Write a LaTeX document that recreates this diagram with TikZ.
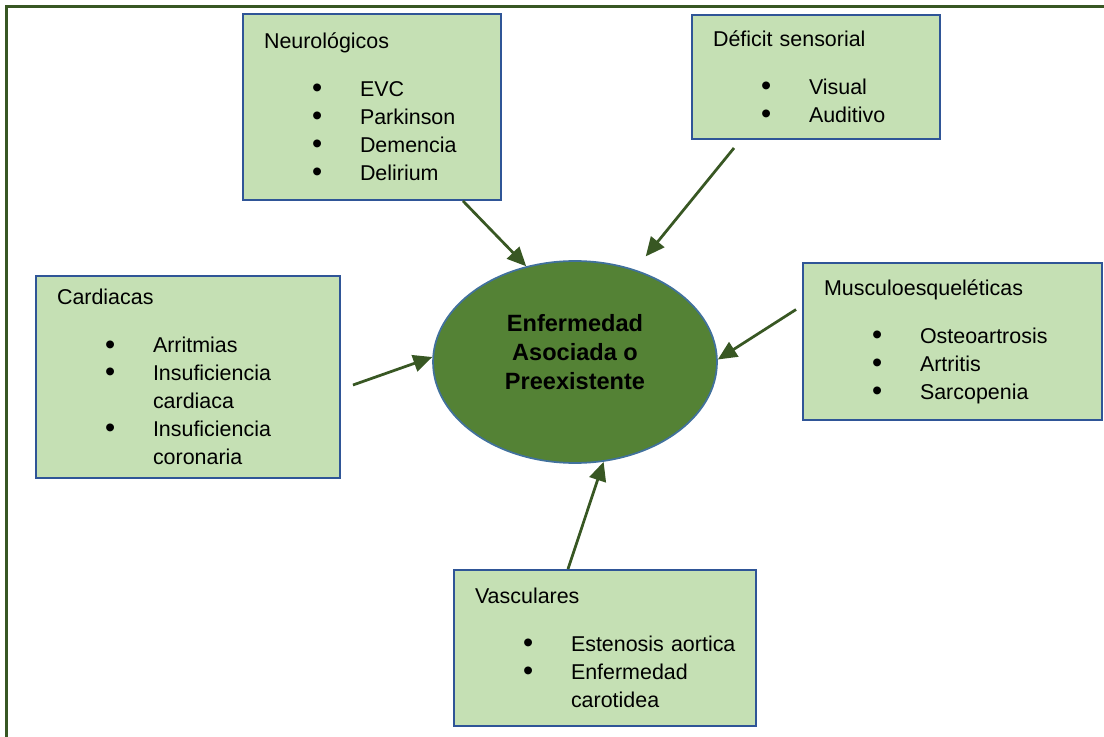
\documentclass[tikz,border=0pt]{standalone}
\usepackage{fontspec}
\usepackage{graphicx}
\setmainfont{Liberation Sans}
\usetikzlibrary{positioning,arrows.meta,shapes.geometric}
\definecolor{MapFrame}{RGB}{56,87,35}
\definecolor{MapFill}{RGB}{197,224,180}
\definecolor{MapBlue}{RGB}{47,85,151}
\definecolor{MapCore}{RGB}{84,130,53}
\definecolor{MapRim}{RGB}{65,113,156}
\newcommand{\bdot}{\raisebox{-0.06em}{\scalebox{1.35}{\textbullet}}}
\newcommand{\bitem}[1]{\hspace*{0.96cm}\makebox[0.96cm][l]{\bdot}\mbox{#1}}
\newcommand{\bcont}[1]{\hspace*{1.92cm}\mbox{#1}}
\tikzset{
  map box/.style={
    draw=MapBlue,
    fill=MapFill,
    line width=0.04cm,
    inner xsep=0.42cm,
    inner ysep=2pt,
    align=left,
    font=\fontsize{12.2pt}{15.9pt}\selectfont
  },
  map core/.style={ellipse, draw=MapRim, fill=MapCore, line width=0.035cm,
    minimum width=5.68cm, minimum height=4.04cm, inner sep=0pt, align=center,
    font=\fontsize{13.4pt}{16.5pt}\selectfont\bfseries},
  map arrow/.style={-{Triangle[length=0.38cm,width=0.34cm]}, line width=0.055cm, MapFrame},
  map frame/.style={draw=MapFrame, line width=0.065cm}
}
\begin{document}
\begin{tikzpicture}[x=0.02cm,y=-0.02cm]
\useasboundingbox (0,0) rectangle (1104,736);
\draw[map frame] (6.5,745) |- (1110,6.5);
% centre
\node[map core] (enf) at (575,362) {Enfermedad\\Asociada o\\Preexistente\\[-0.18cm]};
% grupos
\node[map box, minimum width=5.16cm, minimum height=3.72cm, text width=4.32cm] (neuro) at (372,107)
  {Neurológicos\\[0.4cm]\bitem{EVC}\\\bitem{Parkinson}\\\bitem{Demencia}\\\bitem{Delirium}};
\node[map box, minimum width=4.96cm, minimum height=2.48cm, text width=4.12cm] (sens) at (816,77)
  {Déficit sensorial\\[0.4cm]\bitem{Visual}\\\bitem{Auditivo}};
\node[map box, minimum width=6.08cm, minimum height=4.04cm, text width=5.24cm] (card) at (188,377)
  {Cardiacas\\[0.4cm]\bitem{Arritmias}\\\bitem{Insuficiencia}\\\bcont{cardiaca}\\\bitem{Insuficiencia}\\\bcont{coronaria}};
\node[map box, minimum width=5.98cm, minimum height=3.14cm, text width=5.14cm] (musc) at (952.5,341.5)
  {Musculoesqueléticas\\[0.4cm]\bitem{Osteoartrosis}\\\bitem{Artritis}\\\bitem{Sarcopenia}};
\node[map box, minimum width=6.04cm, minimum height=3.12cm, text width=5.2cm] (vasc) at (605,648)
  {Vasculares\\[0.4cm]\bitem{Estenosis aortica}\\\bitem{Enfermedad}\\\bcont{carotidea}};
% flechas
\draw[map arrow] ([xshift=1.82cm]neuro.south)--(enf.117);
\draw[map arrow, shorten >=0.34cm] ([xshift=-1.64cm,yshift=-0.16cm]sens.south)--(enf.57);
\draw[map arrow] ([xshift=0.24cm,yshift=-0.16cm]card.east)--(enf.178);
\draw[map arrow] ([xshift=-0.12cm,yshift=0.64cm]musc.west)--(enf.1);
\draw[map arrow] ([xshift=-0.74cm]vasc.north)--(enf.-74);
\end{tikzpicture}
\end{document}
